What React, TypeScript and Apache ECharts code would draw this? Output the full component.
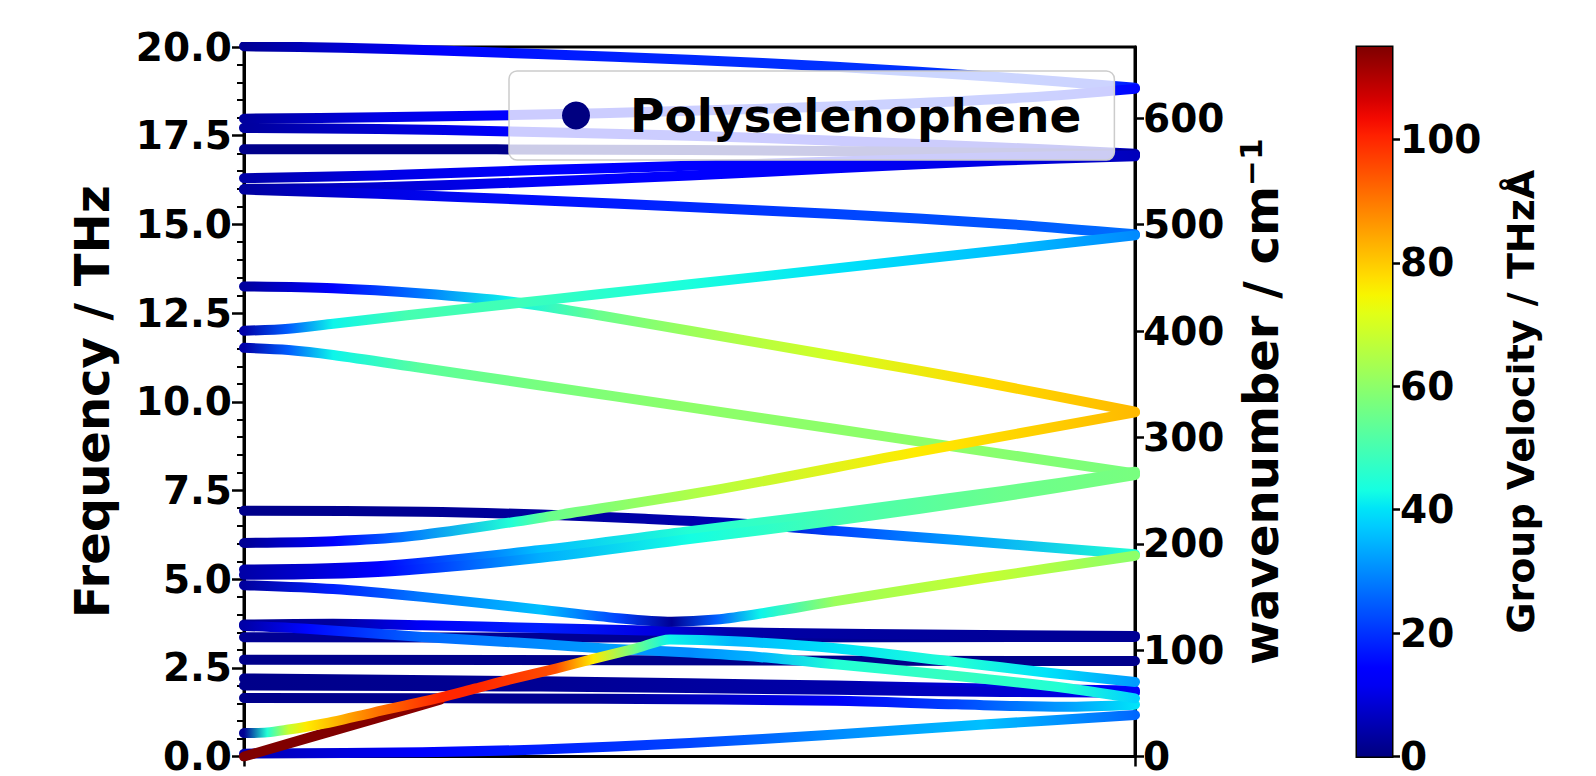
import React, { useEffect, useRef } from "react";
import * as echarts from "echarts";

// ---------- data: phonon bands, knots [q (0..1), frequency THz, group velocity THzÅ] ----------
const V_MAX = 115;
const THZ_TO_CM = 33.356;
const FREQ_MAX = 20;
const colorbarTicks = [0, 20, 40, 60, 80, 100];
const wavenumberTicks = [0, 100, 200, 300, 400, 500, 600];

const bandT1 = [[0, 20.02, 2], [0.11, 19.98, 8], [0.22, 19.9, 14], [0.33, 19.8, 17], [0.5, 19.64, 19], [0.664, 19.44, 20], [0.85, 19.15, 20], [1, 18.85, 18]];
const bandT2 = [[0, 17.98, 3], [0.15, 18.02, 10], [0.3, 18.08, 14], [0.5, 18.2, 16], [0.7, 18.36, 18], [0.88, 18.58, 18], [1, 18.82, 15]];
const bandT3 = [[0, 17.72, 3], [0.15, 17.69, 8], [0.3, 17.62, 13], [0.5, 17.5, 15], [0.664, 17.36, 14], [0.85, 17.17, 10], [1, 16.99, 6]];
const bandT4 = [[0, 17.12, 1], [0.5, 17.1, 1], [1, 16.98, 2]];
const bandT5 = [[0, 16.3, 4], [0.15, 16.38, 10], [0.33, 16.53, 13], [0.5, 16.65, 13], [0.664, 16.77, 12], [0.85, 16.89, 10], [1, 16.95, 6]];
const bandT6a = [[0, 16.0, 3], [0.15, 16.05, 8], [0.33, 16.2, 12], [0.5, 16.38, 13], [0.664, 16.58, 12], [0.85, 16.8, 10], [1, 16.92, 6]];
const bandT6b = [[0, 15.98, 3], [0.15, 15.86, 10], [0.33, 15.68, 16], [0.5, 15.49, 19], [0.664, 15.29, 22], [0.85, 15.02, 24], [1, 14.72, 27]];
const bandU1 = [[0, 13.25, 3], [0.1, 13.2, 14], [0.2, 13.05, 28], [0.3, 12.82, 42], [0.4, 12.43, 55], [0.5, 12.0, 62], [0.664, 11.29, 70], [0.83, 10.55, 78], [1, 9.72, 82]];
const bandU2 = [[0, 12.0, 4], [0.05, 12.06, 25], [0.1, 12.2, 42], [0.183, 12.44, 50], [0.3, 12.76, 49], [0.4, 13.04, 46], [0.5, 13.31, 44], [0.664, 13.76, 40], [0.85, 14.27, 36], [1, 14.69, 30]];
const bandU3 = [[0, 11.52, 4], [0.05, 11.46, 25], [0.1, 11.32, 42], [0.2, 10.95, 53], [0.333, 10.46, 57], [0.5, 9.84, 60], [0.664, 9.23, 60], [0.8, 8.72, 60], [1, 7.98, 57]];
const bandM1 = [[0, 6.93, 1], [0.2, 6.9, 2], [0.333, 6.82, 3], [0.45, 6.7, 4], [0.56, 6.56, 5], [0.664, 6.36, 22], [0.8, 6.1, 32], [1, 5.7, 45]];
const bandM2 = [[0, 6.02, 2], [0.1, 6.07, 14], [0.183, 6.2, 28], [0.3, 6.6, 45], [0.343, 6.77, 55], [0.526, 7.5, 66], [0.754, 8.58, 76], [1, 9.7, 82]];
const bandM3 = [[0, 5.27, 4], [0.15, 5.36, 14], [0.333, 5.82, 36], [0.5, 6.35, 45], [0.664, 6.86, 50], [0.85, 7.48, 55], [1, 8.03, 57]];
const bandM4 = [[0, 5.12, 4], [0.15, 5.2, 14], [0.333, 5.6, 34], [0.5, 6.13, 43], [0.664, 6.65, 50], [0.85, 7.32, 55], [1, 7.93, 57]];
const bandM5 = [[0, 4.83, 3], [0.1, 4.72, 18], [0.2, 4.5, 28], [0.333, 4.14, 36], [0.42, 3.9, 22], [0.48, 3.8, 2], [0.53, 3.86, 25], [0.58, 4.03, 42], [0.664, 4.38, 62], [0.83, 5.03, 68], [1, 5.66, 60]];
const bandA37 = [[0, 3.72, 2], [0.1, 3.74, 3], [0.2, 3.7, 12], [0.333, 3.62, 18], [0.45, 3.55, 10], [0.55, 3.5, 4], [0.7, 3.45, 3], [1, 3.4, 2]];
const bandB37 = [[0, 3.68, 4], [0.07, 3.6, 15], [0.2, 3.37, 26], [0.333, 3.17, 30], [0.41, 3.04, 32], [0.5, 2.93, 30], [0.58, 2.8, 35], [0.664, 2.6, 45], [0.8, 2.27, 48], [0.92, 1.94, 45], [1, 1.64, 38]];
const bandN335 = [[0, 3.36, 2], [0.5, 3.355, 2], [1, 3.37, 2]];
const bandN273 = [[0, 2.73, 1], [1, 2.69, 1]];
const bandE1 = [[0, 2.2, 1], [0.333, 2.12, 2], [0.664, 2.0, 4], [0.85, 1.91, 10], [1, 1.86, 14]];
const bandE2 = [[0, 2.0, 1], [0.333, 1.97, 2], [0.664, 1.88, 4], [0.85, 1.82, 8], [1, 1.8, 12]];
const bandF1 = [[0, 1.65, 1], [0.4, 1.63, 2], [0.664, 1.57, 12], [0.8, 1.47, 22], [0.92, 1.4, 32], [1, 1.46, 40]];
const bandB0 = [[0, 0.08, 5], [0.2, 0.12, 14], [0.333, 0.2, 18], [0.5, 0.38, 22], [0.664, 0.62, 30], [0.83, 0.9, 36], [1, 1.17, 26]];
const bandO1 = [[0, 0.66, 2], [0.026, 0.68, 45], [0.05, 0.76, 68], [0.07, 0.84, 76], [0.1, 0.98, 82], [0.145, 1.24, 90], [0.22, 1.66, 100], [0.26, 1.92, 100], [0.3, 2.18, 98], [0.35, 2.48, 95], [0.392, 2.75, 76], [0.44, 3.05, 55], [0.478, 3.3, 42], [0.55, 3.25, 35], [0.664, 3.05, 40], [0.8, 2.66, 45], [0.9, 2.37, 40], [1, 2.1, 32]];
const bandLA = [[0, 0.0, 115], [0.11, 0.8, 115], [0.22, 1.6, 114]];

const bands = [
  bandT1, bandT2, bandT3, bandT4, bandT5, bandT6a, bandT6b,
  bandU3, bandU1, bandU2,
  bandM1, bandM3, bandM4, bandM2,
  bandN335, bandA37, bandN273, bandE1, bandE2, bandF1,
  bandB0, bandB37, bandM5, bandLA, bandO1,
];

// ---------- styling helpers ----------
const FONT = "DejaVu Sans";
const JET_R = [[0, 0], [0.35, 0], [0.66, 1], [0.89, 1], [1, 0.5]];
const JET_G = [[0, 0], [0.125, 0], [0.375, 1], [0.64, 1], [0.91, 0], [1, 0]];
const JET_B = [[0, 0.5], [0.11, 1], [0.34, 1], [0.65, 0], [1, 0]];
function seg(p: number[][], t: number) {
  for (let i = 1; i < p.length; i++) {
    if (t <= p[i][0]) {
      const [x0, y0] = p[i - 1];
      const [x1, y1] = p[i];
      return y0 + ((y1 - y0) * (t - x0)) / (x1 - x0);
    }
  }
  return p[p.length - 1][1];
}
function jet(t: number) {
  const c = Math.max(0, Math.min(1, t));
  const r = Math.round(seg(JET_R, c) * 255);
  const g = Math.round(seg(JET_G, c) * 255);
  const b = Math.round(seg(JET_B, c) * 255);
  return `rgb(${r},${g},${b})`;
}
function bandGradient(pts: number[][]) {
  const x0 = pts[0][0];
  const x1 = pts[pts.length - 1][0];
  return new echarts.graphic.LinearGradient(
    0, 0, 1, 0,
    pts.map((p) => ({ offset: (p[0] - x0) / (x1 - x0), color: jet(p[2] / V_MAX) }))
  );
}

const GRID_LEFT = 244;
const GRID_TOP = 47;
const GRID_W = 891;
const GRID_H = 719;

export default function App() {
  const ref = useRef<HTMLDivElement>(null);
  useEffect(() => {
    if (!ref.current) return;
    const chart = echarts.init(ref.current, undefined, { renderer: "svg" });
    const labelStyle = { color: "#000", fontFamily: FONT, fontWeight: "bold" as const, fontSize: 39 };

    const bandSeries = bands.map((pts, i) => ({
      type: "line",
      name: "band" + i,
      xAxisIndex: 0,
      yAxisIndex: 0,
      data: pts.map((p) => [p[0], p[1]]),
      showSymbol: false,
      smooth: 0.3,
      silent: true,
      z: 2,
      lineStyle: { width: 10, color: bandGradient(pts), cap: "round", join: "round" },
      emphasis: { disabled: true },
    }));

    const cbStops = [];
    for (let i = 0; i <= 40; i++) cbStops.push({ offset: i / 40, color: jet(i / 40) });

    chart.setOption({
      animation: false,
      backgroundColor: "#fff",
      grid: [
        { left: GRID_LEFT, top: GRID_TOP, width: GRID_W, height: GRID_H, show: true, borderColor: "#000", borderWidth: 3, backgroundColor: "transparent" },
        { left: 1357, top: GRID_TOP, width: 35, height: GRID_H, show: true, borderColor: "#000", borderWidth: 3, backgroundColor: "transparent" },
      ],
      legend: {
        data: [{ name: "Polyselenophene", icon: "circle" }],
        left: 509,
        top: 71,
        padding: [21, 33, 21, 53],
        itemWidth: 28,
        itemHeight: 28,
        selectedMode: false,
        backgroundColor: "rgba(255,255,255,0.8)",
        borderColor: "#cccccc",
        borderWidth: 1.5,
        borderRadius: 8,
        z: 10,
        formatter: (n: string) => "{g| }{t|" + n + "}",
        textStyle: {
          rich: {
            g: { width: 35 },
            t: { fontSize: 47, fontWeight: "bold", fontFamily: FONT, color: "#000" },
          },
        },
      },
      xAxis: [
        {
          type: "value", gridIndex: 0, min: 0, max: 1, interval: 1,
          axisLine: { show: true, lineStyle: { color: "#000", width: 3 } },
          axisTick: { show: true, inside: false, length: 10, lineStyle: { width: 2.5, color: "#000" } },
          axisLabel: { show: false },
          splitLine: { show: false },
        },
        { type: "category", gridIndex: 1, data: ["v"], show: false },
      ],
      yAxis: [
        {
          type: "value", gridIndex: 0, position: "left", min: 0, max: FREQ_MAX, interval: 2.5,
          name: "Frequency / THz", nameLocation: "middle", nameRotate: 90, nameGap: 128,
          nameTextStyle: { color: "#000", fontFamily: FONT, fontWeight: "bold", fontSize: 48 },
          axisLine: { show: true, lineStyle: { color: "#000", width: 3 } },
          axisTick: { show: true, length: 12, lineStyle: { width: 2.5, color: "#000" } },
          minorTick: { show: true, splitNumber: 5, length: 7, lineStyle: { width: 2, color: "#000" } },
          axisLabel: { ...labelStyle, margin: 12, formatter: (v: number) => v.toFixed(1) },
          splitLine: { show: false },
        },
        {
          type: "value", gridIndex: 0, position: "right", min: 0, max: FREQ_MAX * THZ_TO_CM,
          name: "{m|wavenumber / cm}{s|−1}", nameLocation: "middle", nameRotate: 90, nameGap: 100,
          nameTextStyle: {
            rich: {
              m: { fontFamily: FONT, fontWeight: "bold", fontSize: 48, color: "#000", lineHeight: 52 },
              s: { fontFamily: FONT, fontWeight: "bold", fontSize: 31, color: "#000", verticalAlign: "top", lineHeight: 31 },
            },
          },
          axisLine: { show: true, lineStyle: { color: "#000", width: 3 } },
          axisTick: { show: true, length: 9, lineStyle: { width: 2.5, color: "#000" }, customValues: wavenumberTicks },
          axisLabel: { ...labelStyle, margin: 8, customValues: wavenumberTicks },
          splitLine: { show: false },
        },
        {
          type: "value", gridIndex: 1, position: "right", min: 0, max: V_MAX,
          name: "Group Velocity / THzÅ", nameLocation: "middle", nameRotate: 90, nameGap: 110,
          nameTextStyle: { color: "#000", fontFamily: FONT, fontWeight: "bold", fontSize: 38 },
          axisLine: { show: false },
          axisTick: { show: true, length: 8, lineStyle: { width: 2.5, color: "#000" }, customValues: colorbarTicks },
          axisLabel: { ...labelStyle, margin: 8, customValues: colorbarTicks },
          splitLine: { show: false },
        },
      ],
      series: [
        { type: "scatter", name: "Polyselenophene", data: [], itemStyle: { color: "#000080", opacity: 1 }, xAxisIndex: 0, yAxisIndex: 0 },
        ...bandSeries,
        {
          type: "bar", name: "colorbar", xAxisIndex: 1, yAxisIndex: 2, data: [V_MAX], barWidth: "100%", silent: true,
          itemStyle: { color: new echarts.graphic.LinearGradient(0, 1, 0, 0, cbStops) },
        },
      ],
    });
    return () => chart.dispose();
  }, []);
  return <div ref={ref} style={{ position: "fixed", left: 0, top: 0, width: 1596, height: 776 }} />;
}
